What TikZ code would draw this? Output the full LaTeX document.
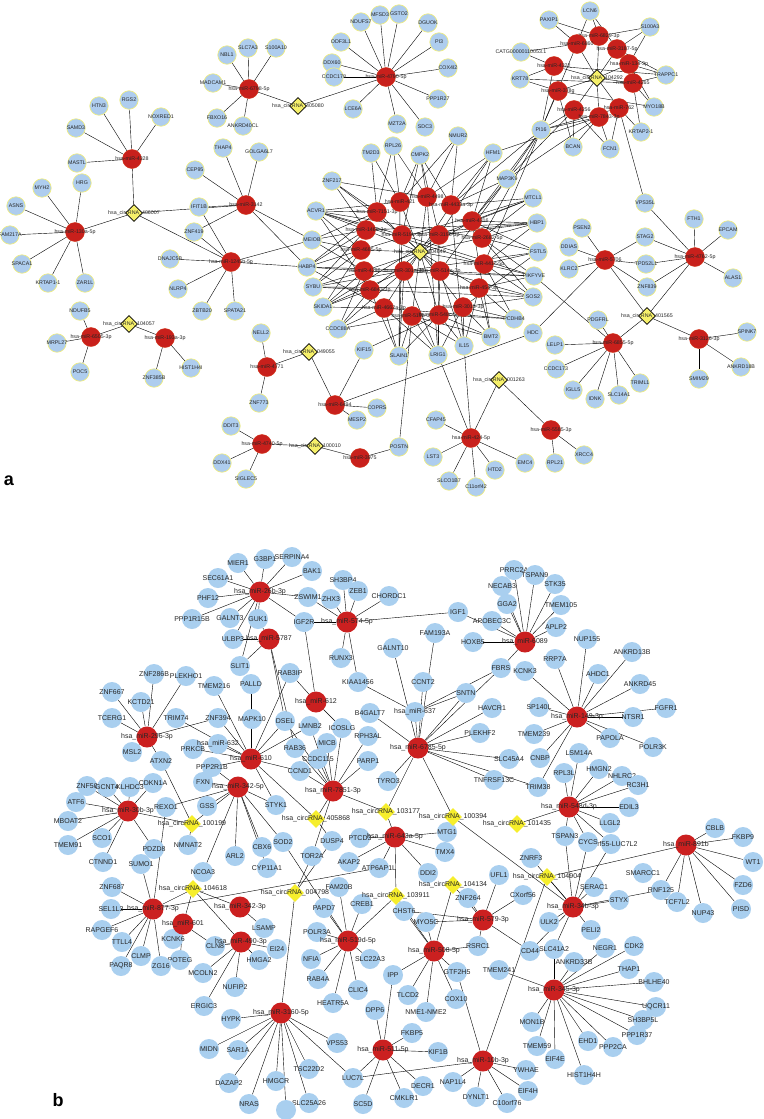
\documentclass[tikz,border=0pt]{standalone}
\usepackage{fontspec}
\setmainfont{Liberation Sans}
\usetikzlibrary{shapes.geometric,backgrounds}
\definecolor{blA}{HTML}{AECDEE}
\definecolor{ylA}{HTML}{F2EE7A}
\definecolor{rdA}{HTML}{C8201C}
\definecolor{dmA}{HTML}{F6F06A}
\definecolor{blB}{HTML}{A9CFEF}
\definecolor{rdB}{HTML}{CB2020}
\definecolor{dmB}{HTML}{F6EE2C}
\tikzset{
 ga/.style={circle,fill=blA,draw=ylA,line width=0.6pt,minimum size=18.5pt,inner sep=0},
 ra/.style={circle,fill=rdA,draw=rdA!80!orange,line width=0.4pt,minimum size=19pt,inner sep=0},
 da/.style={diamond,fill=dmA,draw=black,line width=0.8pt,minimum size=17pt,inner sep=0},
 la/.style={font=\fontsize{5.3}{6}\selectfont,text=black!85,inner sep=0},
 gb/.style={circle,fill=blB,minimum size=20pt,inner sep=0},
 rb/.style={circle,fill=rdB,minimum size=21pt,inner sep=0},
 db/.style={diamond,fill=dmB,minimum size=18pt,inner sep=0},
 lb/.style={font=\fontsize{7}{8}\selectfont,text=black!85,inner sep=0},
 ea/.style={draw=black!22,line width=0.4pt},
 eb/.style={draw=black!55,line width=0.8pt},
 panel/.style={font=\fontsize{18}{20}\selectfont\bfseries}
}
\newcommand\GA[3]{\node[ga,label={[la]center:#3}] (#1) at (#2) {};}
\newcommand\RA[3]{\node[ra,label={[la]center:#3}] (#1) at (#2) {};}
\newcommand\DA[3]{\node[da,label={[la]center:#3}] (#1) at (#2) {};}
\newcommand\GB[3]{\node[gb,label={[lb]center:#3}] (#1) at (#2) {};}
\newcommand\RB[3]{\node[rb,label={[lb]center:#3}] (#1) at (#2) {};}
\newcommand\DB[3]{\node[db,label={[lb]center:#3}] (#1) at (#2) {};}
\newcommand\E[2]{\foreach \t in {#2}{\draw (#1) -- (\t);}}
\begin{document}
\begin{tikzpicture}[x=1pt,y=-1pt]
\useasboundingbox (0,0) rectangle (763,1119);
\begin{scope}[on background layer]
\fill[white] (0,0) rectangle (763,1119);
\end{scope}
% ================= PANEL A =================
\foreach \n/\p in {NBL1/{227,55},SLC7A3/{248,48},S100A10/{276,48},MADCAM1/{213,83},FBXO16/{217,118},ANKRD40CL/{243,126},
HTN3/{99,106},RGS2/{129,100},NOXRED1/{161,117},SAMD3/{76,128},MASTL/{77,163},THAP4/{223,148},GOLGA6L7/{259,152},CEP95/{195,170},IFIT1B/{199,207},ZNF419/{194,232},
MYH2/{42,188},HRG/{82,183},ASNS/{16,206},FAM217A/{10,235},SPACA1/{22,264},KRTAP1-1/{48,283},ZAR1L/{85,283},
NDUFS7/{361,22},MFSD3/{380,15},ODF3L1/{341,42},DDX60/{332,63},CCDC178/{334,77},LCE6A/{353,109},GSTO2/{399,14},DGUOK/{428,23},PI3/{439,42},COX4I2/{448,68},PPP1R27/{438,99},MZT2A/{397,124},SDC3/{425,127},
TM2D3/{371,153},ZNF217/{332,181},ACVR1/{316,211},MEIOB/{312,240},RPL26/{393,146},CMPK2/{420,155},NMUR2/{458,136},HFM1/{493,153},MAP3K9/{507,179},MTCL1/{533,198},HBP1/{537,223},
PSEN2/{582,228},STAG2/{645,237},VPS35L/{645,203},FTH1/{694,219},EPCAM/{728,230},
PAXIP1/{549,20},LCN6/{590,11},S100A3/{650,27},KRT78/{520,79},TRAPPC1/{666,75},MYO18B/{654,107},KRTAP2-1/{641,132},PI16/{541,130},BCAN/{573,147},FCN1/{610,149},
DNAJC5B/{170,259},HABP4/{307,267},SYBU/{313,287},SKIDA1/{323,307},CCDC88A/{338,329},NLRP4/{178,289},ZBTB20/{202,311},SPATA21/{235,311},
NDUFB5/{80,311},MRPL27/{57,343},POC5/{80,372},ZNF385B/{154,378},HIST1H4I/{191,368},NELL2/{261,333},ZNF773/{259,403},KIF15/{364,350},COPRS/{377,408},MESP2/{357,420},
DDIT3/{231,426},DDX41/{222,463},SIGLEC5/{246,479},
FSTL5/{538,252},PIKFYVE/{534,276},SOS2/{533,297},PCDHB4/{514,319},BMT2/{491,337},IL15/{464,346},LRIG1/{438,355},SLAIN1/{399,356},HDC/{533,333},
DDIAS/{569,247},KLRC2/{569,269},TPD52L1/{646,264},ZNF839/{647,287},ALAS1/{733,278},
PDGFRL/{598,320},LELP1/{555,345},CCDC173/{556,369},IGLL5/{573,390},IDNK/{595,399},SLC14A1/{619,395},TRIML1/{640,383},
SPINK7/{747,332},ANKRD18B/{741,367},SMIM29/{699,379},
CFAP45/{436,420},POSTN/{399,447},LST3/{433,457},HTD2/{495,470},EMC4/{525,463},SLCO1B7/{449,481},C11orf42/{476,487},RPL21/{555,463},XRCC4/{584,455}}
{\GA{\n}{\p}{\n}}
\GA{CATG}{521,52}{CATG00000110053.1}
% red panel a
\RA{a6798}{249,89}{hsa-miR-6798-5p}
\RA{a4328}{132,159}{hsa-miR-4328}
\RA{a3142}{246,205}{hsa-miR-3142}
\RA{a130a}{75,232}{hsa-miR-130a-5p}
\RA{a4790}{386,77}{hsa-miR-4790-5p}
\RA{a1245}{231,262}{hsa-miR-1245b-5p}
\RA{a6505}{91,337}{hsa-miR-6505-3p}
\RA{a193a}{165,338}{hsa-miR-193a-3p}
\RA{a4771}{267,367}{hsa-miR-4771}
\RA{a6494}{335,405}{hsa-miR-6494}
\RA{a4740}{262,444}{hsa-miR-4740-5p}
\RA{a3975}{360,458}{hsa-miR-3975}
\RA{a6829}{599,36}{hsa-miR-6829-3p}
\RA{a6860}{577,44}{hsa-miR-6860}
\RA{a3187}{617,49}{hsa-miR-3187-5p}
\RA{a4322}{554,66}{hsa-miR-4322}
\RA{a134}{629,64}{hsa-miR-134-3p}
\RA{a4265}{633,83}{hsa-miR-4265}
\RA{a378g}{558,91}{hsa-miR-378g}
\RA{a4256}{574,110}{hsa-miR-4256}
\RA{a762}{619,108}{hsa-miR-762}
\RA{a7843}{599,117}{hsa-miR-7843-3p}
\RA{c1}{377,212}{hsa-miR-7151-3p}
\RA{c2}{400,202}{hsa-miR-421}
\RA{c3}{427,197}{hsa-miR-4498}
\RA{c4}{451,205}{hsa-miR-4433a-3p}
\RA{c5}{472,221}{hsa-miR-4316}
\RA{c6}{482,238}{hsa-miR-2682-5p}
\RA{c7}{366,230}{hsa-miR-1468-3p}
\RA{c8}{361,250}{hsa-miR-4685-5p}
\RA{c9}{402,235}{hsa-miR-519c-3p}
\RA{c10}{439,235}{hsa-miR-3196-3p}
\RA{c11}{364,271}{hsa-miR-4296}
\RA{c12}{404,271}{hsa-miR-301a-3p}
\RA{c13}{440,271}{hsa-miR-514a-3p}
\RA{c14}{484,264}{hsa-miR-441c-5p}
\RA{c15}{479,288}{hsa-miR-454-3p}
\RA{c16}{370,290}{hsa-miR-6843-3p}
\RA{c17}{384,308}{hsa-miR-4662a-3p}
\RA{c18}{412,316}{hsa-miR-519b-3p}
\RA{c19}{439,315}{hsa-miR-548c-5p}
\RA{c20}{463,307}{hsa-miR-301b-3p}
\RA{a5706}{605,260}{hsa-miR-5706}
\RA{a4762}{695,257}{hsa-miR-4762-5p}
\RA{a6855}{613,343}{hsa-miR-6855-5p}
\RA{a3126}{699,339}{hsa-miR-3126-3p}
\RA{a424}{471,438}{hsa-miR-424-5p}
\RA{a5585}{551,430}{hsa-miR-5585-3p}
% diamonds panel a
\DA{k405080}{298,106}{hsa\_circRNA\_405080}
\DA{k406007}{134,213}{hsa\_circRNA\_406007}
\DA{k104292}{597,78}{hsa\_circRNA\_104292}
\DA{k104649}{420,252}{hsa\_circRNA\_104649}
\DA{k104057}{129,324}{hsa\_circRNA\_104057}
\DA{k049055}{309,352}{hsa\_circRNA\_049055}
\DA{k100010}{315,446}{hsa\_circRNA\_100010}
\DA{k401565}{647,316}{hsa\_circRNA\_401565}
\DA{k001263}{499,380}{hsa\_circRNA\_001263}
\node[panel] (pa) at (9,481) {a};
\begin{scope}[on background layer,ea]
\E{k405080}{a6798,a4790}
\E{a6798}{NBL1,SLC7A3,S100A10,MADCAM1,FBXO16,ANKRD40CL}
\E{a4790}{NDUFS7,MFSD3,ODF3L1,DDX60,CCDC178,LCE6A,GSTO2,DGUOK,PI3,COX4I2,PPP1R27,MZT2A,SDC3}
\E{k406007}{a4328,a130a,a3142,a1245}
\E{a4328}{HTN3,RGS2,NOXRED1,SAMD3,MASTL}
\E{a130a}{MYH2,HRG,ASNS,FAM217A,SPACA1,KRTAP1-1,ZAR1L}
\E{a3142}{THAP4,GOLGA6L7,CEP95,IFIT1B,ZNF419,MEIOB,HABP4}
\E{a1245}{DNAJC5B,NLRP4,ZBTB20,SPATA21,HABP4,ZNF419,IFIT1B,MEIOB}
\E{k104057}{a6505,a193a}
\E{a6505}{NDUFB5,MRPL27,POC5}
\E{a193a}{ZNF385B,HIST1H4I}
\E{k049055}{a4771,a6494}
\E{a4771}{NELL2,ZNF773}
\E{a6494}{KIF15,COPRS,MESP2,HDC}
\E{k100010}{a4740,a3975}
\E{a4740}{DDIT3,DDX41,SIGLEC5}
\E{a3975}{POSTN}
\E{POSTN}{c18}
\E{k104292}{a6829,a6860,a3187,a4322,a134,a4265,a378g,a4256,a762,a7843}
\E{a6829}{LCN6,S100A3,PAXIP1}
\E{a6860}{PAXIP1,LCN6,CATG,PI16}
\E{a3187}{S100A3,TRAPPC1,LCN6}
\E{a4322}{CATG,KRT78,PI16,TRAPPC1}
\E{a134}{TRAPPC1,MYO18B,S100A3}
\E{a4265}{TRAPPC1,MYO18B,KRT78,KRTAP2-1}
\E{a378g}{KRT78,PI16,BCAN,MYO18B}
\E{a4256}{PI16,BCAN,FCN1,MAP3K9}
\E{a762}{KRTAP2-1,FCN1,VPS35L,PI16}
\E{a7843}{FCN1,BCAN,PI16,MAP3K9,HFM1}
\E{PI16}{c4,c5,c6,c14,MAP3K9}
\E{k401565}{a5706,a4762,a6855,a3126}
\E{a5706}{DDIAS,KLRC2,TPD52L1,ZNF839,PSEN2,STAG2,HDC}
\E{a4762}{FTH1,EPCAM,ALAS1,ZNF839,VPS35L,STAG2,TPD52L1}
\E{a6855}{PDGFRL,LELP1,CCDC173,IGLL5,IDNK,SLC14A1,TRIML1,PIKFYVE}
\E{a3126}{SPINK7,ANKRD18B,SMIM29}
\E{k001263}{a424,a5585}
\E{a424}{CFAP45,LST3,HTD2,EMC4,SLCO1B7,C11orf42,LRIG1,IL15}
\E{a5585}{RPL21,XRCC4}
\E{k104649}{c1,c2,c3,c4,c5,c6,c7,c8,c9,c10,c11,c12,c13,c14,c15,c16,c17,c18,c19,c20}
\E{c1}{ZNF217,ACVR1,TM2D3,RPL26,MEIOB,HABP4}
\E{c2}{TM2D3,RPL26,CMPK2,ACVR1,NMUR2,SLAIN1}
\E{c3}{RPL26,CMPK2,NMUR2,HFM1,ZNF217,LRIG1}
\E{c4}{NMUR2,HFM1,MAP3K9,MTCL1,CMPK2,IL15}
\E{c5}{MAP3K9,MTCL1,HBP1,HFM1,FSTL5,BMT2}
\E{c6}{MTCL1,HBP1,FSTL5,PIKFYVE,SOS2,ACVR1}
\E{c7}{ZNF217,ACVR1,MEIOB,HABP4,SYBU,HBP1}
\E{c8}{ACVR1,MEIOB,HABP4,SYBU,SKIDA1,MTCL1}
\E{c9}{ACVR1,ZNF217,HBP1,PIKFYVE,SLAIN1,CMPK2}
\E{c10}{CMPK2,HFM1,MTCL1,HBP1,LRIG1,SKIDA1}
\E{c11}{HABP4,SYBU,SKIDA1,CCDC88A,MEIOB,PIKFYVE}
\E{c12}{SKIDA1,CCDC88A,SLAIN1,LRIG1,FSTL5,SYBU}
\E{c13}{LRIG1,IL15,PIKFYVE,SOS2,HABP4,MAP3K9}
\E{c14}{FSTL5,PIKFYVE,SOS2,PCDHB4,HBP1,ACVR1}
\E{c15}{PIKFYVE,SOS2,PCDHB4,BMT2,IL15,SYBU}
\E{c16}{SYBU,SKIDA1,CCDC88A,SLAIN1,ACVR1,SOS2}
\E{c17}{CCDC88A,SLAIN1,LRIG1,SKIDA1,PCDHB4,HABP4}
\E{c18}{SLAIN1,LRIG1,IL15,BMT2,CCDC88A}
\E{c19}{LRIG1,IL15,BMT2,PCDHB4,SLAIN1,KIF15}
\E{c20}{IL15,BMT2,PCDHB4,SOS2,LRIG1,FSTL5}
\end{scope}
% ================= PANEL B =================
\foreach \n/\p in {MIER1/{238,563},G3BP1/{265,559},SERPINA4/{292,557},BAK1/{312,571},SEC61A1/{218,578},PHF12/{208,598},ZSWIM1/{308,597},PPP1R15B/{192,619},GALNT3/{230,618},GUK1/{258,619},IGF2R/{304,622},ULBP3/{233,639},SH3BP4/{343,580},ZHX3/{331,599},ZEB1/{358,591},CHORDC1/{389,596},
PRRC2A/{514,570},TSPAN9/{535,575},NECAB3/{502,586},STK35/{555,584},GGA2/{507,604},TMEM105/{561,605},IGF1/{458,612},APOBEC3C/{492,621},APLP2/{556,627},NUP155/{587,639},FAM193A/{435,633},HOXB5/{473,642},GALNT10/{393,648},ANKRD13B/{632,652},
RRP7A/{555,659},FBRS/{501,668},KCNK3/{525,671},AHDC1/{598,674},ANKRD45/{640,684},FGFR1/{666,708},CCNT2/{423,682},SNTN/{466,693},HAVCR1/{492,708},SP140L/{539,707},NTSR1/{633,717},PLEKHF2/{480,733},TMEM239/{534,734},PAPOLA/{610,738},POLR3K/{653,747},SLC45A4/{509,759},CNBP/{540,758},LSM14A/{579,753},RPL3L/{564,773},HMGN2/{599,769},NHLRC2/{622,776},RC3H1/{638,785},TNFRSF13C/{494,780},TRIM38/{538,787},TYRO3/{388,781},EDIL3/{629,807},
SLIT1/{240,666},RAB3IP/{290,673},RUNX3/{341,658},ZNF286B/{154,674},PLEKHO1/{186,676},TMEM216/{214,686},PALLD/{251,684},KIAA1456/{358,682},ZNF667/{112,692},KCTD21/{141,702},B4GALT7/{370,713},TCERG1/{112,718},TRIM74/{176,718},ZNF394/{218,718},MAPK10/{252,719},DSEL/{285,721},LMNB2/{310,726},ICOSLG/{342,728},RPH3AL/{368,736},MICB/{327,743},MSL2/{132,752},PRKCB/{193,749},RAB36/{295,748},ATXN2/{161,761},CCDC115/{318,759},PARP1/{368,761},PPP2R1B/{212,767},CCND1/{300,771},ZNF50/{87,786},GCNT4/{107,787},KLHDC3/{130,787},CDKN1A/{153,783},FXN/{203,782},STYK1/{276,805},ATF6/{76,802},REXO1/{166,807},GSS/{207,806},
MBOAT2/{68,821},TMEM91/{68,845},SCO1/{102,838},PDZD8/{154,849},NMNAT2/{188,845},ARL2/{235,856},CBX6/{262,847},SOD2/{283,842},TOR2A/{312,856},DUSP4/{332,841},PTCD3/{360,838},CTNND1/{103,862},SUMO1/{141,864},CYP11A1/{267,868},AKAP2/{349,862},NCOA3/{203,872},ATP6AP1L/{379,868},ZNF687/{112,887},FAM20B/{339,887},SEL1L3/{111,909},PAPD7/{324,908},CREB1/{362,904},RAPGEF6/{102,930},POLR3A/{317,932},LSAMP/{264,928},TTLL4/{122,942},KCNK6/{173,939},CLN8/{215,946},EI24/{277,949},CLMP/{141,956},POTEG/{180,960},HMGA2/{259,960},NFIA/{311,959},SLC22A3/{370,959},PAQR8/{121,966},ZG16/{161,966},
MCOLN2/{203,973},NUFIP2/{235,987},ERGIC3/{204,1006},RAB4A/{318,979},CLIC4/{358,990},HEATR5A/{333,1003},HYPK/{231,1019},DPP6/{375,1010},MIDN/{209,1049},SAR1A/{238,1050},VPS53/{337,1043},TSC22D2/{309,1069},HMGCR/{276,1081},DAZAP2/{229,1083},LUC7L/{353,1078},NRAS/{249,1104},SLC25A26/{309,1103},SC5D/{363,1104},
LLGL2/{610,823},TSPAN3/{565,836},MTG1/{447,832},TMX4/{445,852},CBLB/{715,828},FKBP9/{743,837},WT1/{753,862},ZNRF3/{531,858},SMARCC1/{643,873},DDI2/{428,873},UFL1/{499,875},FZD6/{743,885},ZNF264/{468,898},CXorf56/{523,895},SERAC1/{594,887},RNF125/{661,890},TCF7L2/{677,902},STYX/{619,900},CHST6/{404,911},MYO5C/{426,922},NUP43/{703,913},PISD/{741,909},ULK2/{549,922},PELI2/{591,930},RSRC1/{478,946},CD44/{530,951},SLC41A2/{554,949},NEGR1/{605,948},CDK2/{634,946},ANKRD33B/{574,962},
THAP1/{629,969},GTF2H5/{457,972},TMEM241/{499,970},IPP/{393,975},BHLHE40/{654,982},TLCD2/{408,995},COX10/{456,999},UQCR11/{656,1007},NME1-NME2/{426,1012},MON1B/{532,1022},SH3BP5L/{643,1020},PPP1R37/{637,1035},EHD1/{588,1041},PPP2CA/{613,1047},TMEM59/{537,1046},FKBP5/{412,1033},EIF4E/{555,1059},KIF1B/{438,1052},YWHAE/{526,1070},HIST1H4H/{584,1075},NAP1L4/{453,1082},DECR1/{423,1086},EIF4H/{528,1091},CMKLR1/{404,1098},DYNLT1/{476,1097},C10orf76/{507,1103}}
{\GB{\n}{\p}{\n}}
\GB{C7orf55}{611,844}{C7orf55-LUC7L2}
\GB{CYCS}{588,842}{CYCS}
\node[gb] (X1) at (286,1110) {};
\GB{b637}{415,712}{hsa\_miR-637}
\GB{b632}{218,744}{hsa\_miR-632}
% red panel b
\RB{b26b}{260,592}{hsa\_miR-26b-3p}
\RB{b5787}{269,639}{hsa\_miR-5787}
\RB{b574}{347,622}{hsa\_miR-574-5p}
\RB{b6089}{525,642}{hsa\_miR-6089}
\RB{b149}{577,717}{hsa\_miR-149-3p}
\RB{b612}{316,702}{hsa\_miR-612}
\RB{b296}{147,737}{hsa\_miR-296-3p}
\RB{b610}{251,759}{hsa\_miR-610}
\RB{b3425}{238,787}{hsa\_miR-342-5p}
\RB{b7851}{333,791}{hsa\_miR-7851-3p}
\RB{b6785}{418,748}{hsa\_miR-6785-5p}
\RB{b548d}{569,807}{hsa\_miR-548d-3p}
\RB{b30b}{128,811}{hsa\_miR-30b-3p}
\RB{b643}{395,837}{hsa\_miR-643a-5p}
\RB{b891b}{686,845}{hsa\_miR-891b}
\RB{b34b}{573,907}{hsa\_miR-34b-3p}
\RB{b877}{153,909}{hsa\_miR-877-3p}
\RB{b3423}{240,907}{hsa\_miR-342-3p}
\RB{b601}{183,924}{hsa\_miR-601}
\RB{b490}{241,942}{hsa\_miR-490-3p}
\RB{b519d}{348,941}{hsa\_miR-519d-5p}
\RB{b579}{483,920}{hsa\_miR-579-3p}
\RB{b508}{434,951}{hsa\_miR-508-5p}
\RB{b345}{554,990}{hsa\_miR-345-3p}
\RB{b3160}{281,1013}{hsa\_miR-3160-5p}
\RB{b511}{383,1050}{hsa\_miR-511-5p}
\RB{b10b}{483,1061}{hsa\_miR-10b-3p}
% diamonds panel b
\DB{d100199}{192,824}{hsa\_circRNA\_100199}
\DB{d405868}{316,819}{hsa\_circRNA\_405868}
\DB{d104618}{193,889}{hsa\_circRNA\_104618}
\DB{d004798}{295,893}{hsa\_circRNA\_004798}
\DB{d103177}{386,812}{hsa\_circRNA\_103177}
\DB{d100394}{453,817}{hsa\_circRNA\_100394}
\DB{d101435}{517,824}{hsa\_circRNA\_101435}
\DB{d104904}{547,877}{hsa\_circRNA\_104904}
\DB{d104134}{453,885}{hsa\_circRNA\_104134}
\DB{d103911}{396,896}{hsa\_circRNA\_103911}
\node[panel] (pb) at (58,1100) {b};
\begin{scope}[on background layer,eb]
\E{b26b}{MIER1,G3BP1,SERPINA4,BAK1,SEC61A1,PHF12,PPP1R15B,GALNT3,GUK1,ULBP3,ZSWIM1,IGF2R,SLIT1}
\E{b574}{SH3BP4,ZHX3,ZEB1,CHORDC1,ZSWIM1,IGF1,RUNX3,KIAA1456,IGF2R}
\E{b5787}{SLIT1,ULBP3,GUK1,DSEL,RAB36}
\E{b612}{IGF2R,ICOSLG,RAB3IP}
\E{b6089}{PRRC2A,TSPAN9,NECAB3,STK35,GGA2,TMEM105,APOBEC3C,APLP2,HOXB5,FBRS,IGF1}
\E{b149}{NUP155,ANKRD13B,RRP7A,AHDC1,ANKRD45,NTSR1,FGFR1,SP140L,TMEM239,CNBP,PAPOLA,POLR3K,KCNK3,TRIM38}
\E{b548d}{LSM14A,RPL3L,HMGN2,NHLRC2,RC3H1,EDIL3,LLGL2,TSPAN3,CYCS,C7orf55,d101435}
\E{b6785}{b637,CCNT2,SNTN,HAVCR1,PLEKHF2,SLC45A4,TNFRSF13C,TRIM38,TYRO3,FBRS,B4GALT7,d103177,d100394,FAM193A,GALNT10}
\E{b637}{SNTN,KIAA1456,FBRS}
\E{b296}{ZNF286B,KCTD21,ZNF667,TCERG1,MSL2,ATXN2,ZNF394,PLEKHO1}
\E{b610}{MAPK10,PALLD,ZNF394,b632,PPP2R1B,DSEL,LMNB2,STYK1,CCND1,RAB3IP,TMEM216,PRKCB,TRIM74}
\E{b3425}{FXN,GSS,ARL2,CBX6,CYP11A1,REXO1,d100199,STYK1,PPP2R1B,SOD2,NCOA3}
\E{b7851}{ICOSLG,MICB,CCDC115,CCND1,PARP1,LMNB2,d405868,TOR2A,RPH3AL,DSEL,RAB36}
\E{b30b}{ZNF50,GCNT4,KLHDC3,CDKN1A,ATF6,MBOAT2,SCO1,TMEM91,CTNND1,PDZD8,d100199}
\E{b877}{ZNF687,SEL1L3,RAPGEF6,TTLL4,CLMP,PAQR8,ZG16,SUMO1,d104618,REXO1,ATP6AP1L}
\E{b601}{KCNK6,POTEG,CLN8,d104618}
\E{b3423}{LSAMP,d104618}
\E{b490}{CLN8,EI24,HMGA2,NUFIP2,MCOLN2,ERGIC3,d104618}
\E{d100199}{NMNAT2,ATXN2}
\E{d405868}{b610,DUSP4}
\E{d004798}{b3160,DUSP4,TOR2A}
\E{b3160}{HYPK,MIDN,SAR1A,DAZAP2,HMGCR,NRAS,SLC25A26,TSC22D2,VPS53,LUC7L,X1}
\E{b519d}{PAPD7,CREB1,POLR3A,NFIA,RAB4A,HEATR5A,CLIC4,SLC22A3,FAM20B,d103911,SOD2}
\E{b508}{CHST6,MYO5C,RSRC1,IPP,TLCD2,NME1-NME2,COX10,GTF2H5,d104134,d103911}
\E{b579}{UFL1,CXorf56,ZNF264,RSRC1,CD44,d104134,CHST6,MYO5C}
\E{b511}{FKBP5,KIF1B,DECR1,CMKLR1,SC5D,LUC7L,DPP6,IPP}
\E{b10b}{YWHAE,EIF4H,C10orf76,DYNLT1,NAP1L4,GTF2H5,d104904,LUC7L}
\E{b345}{ANKRD33B,THAP1,BHLHE40,UQCR11,SH3BP5L,PPP1R37,PPP2CA,EHD1,HIST1H4H,EIF4E,TMEM59,MON1B,NEGR1,CDK2,TMEM241,SLC41A2}
\E{b34b}{SERAC1,STYX,RNF125,ULK2,PELI2,SLC41A2,CYCS,C7orf55,TSPAN3,ZNRF3,d104904,d100394,CD44}
\E{b891b}{CBLB,FKBP9,WT1,FZD6,PISD,NUP43,TCF7L2,RNF125,d104904}
\E{b643}{MTG1,TMX4,DDI2,ATP6AP1L,d103177,PTCD3,AKAP2}
\E{d103177}{b7851}
\E{d100394}{MTG1}
\E{d103911}{b643}
\end{scope}
\end{tikzpicture}
\end{document}
